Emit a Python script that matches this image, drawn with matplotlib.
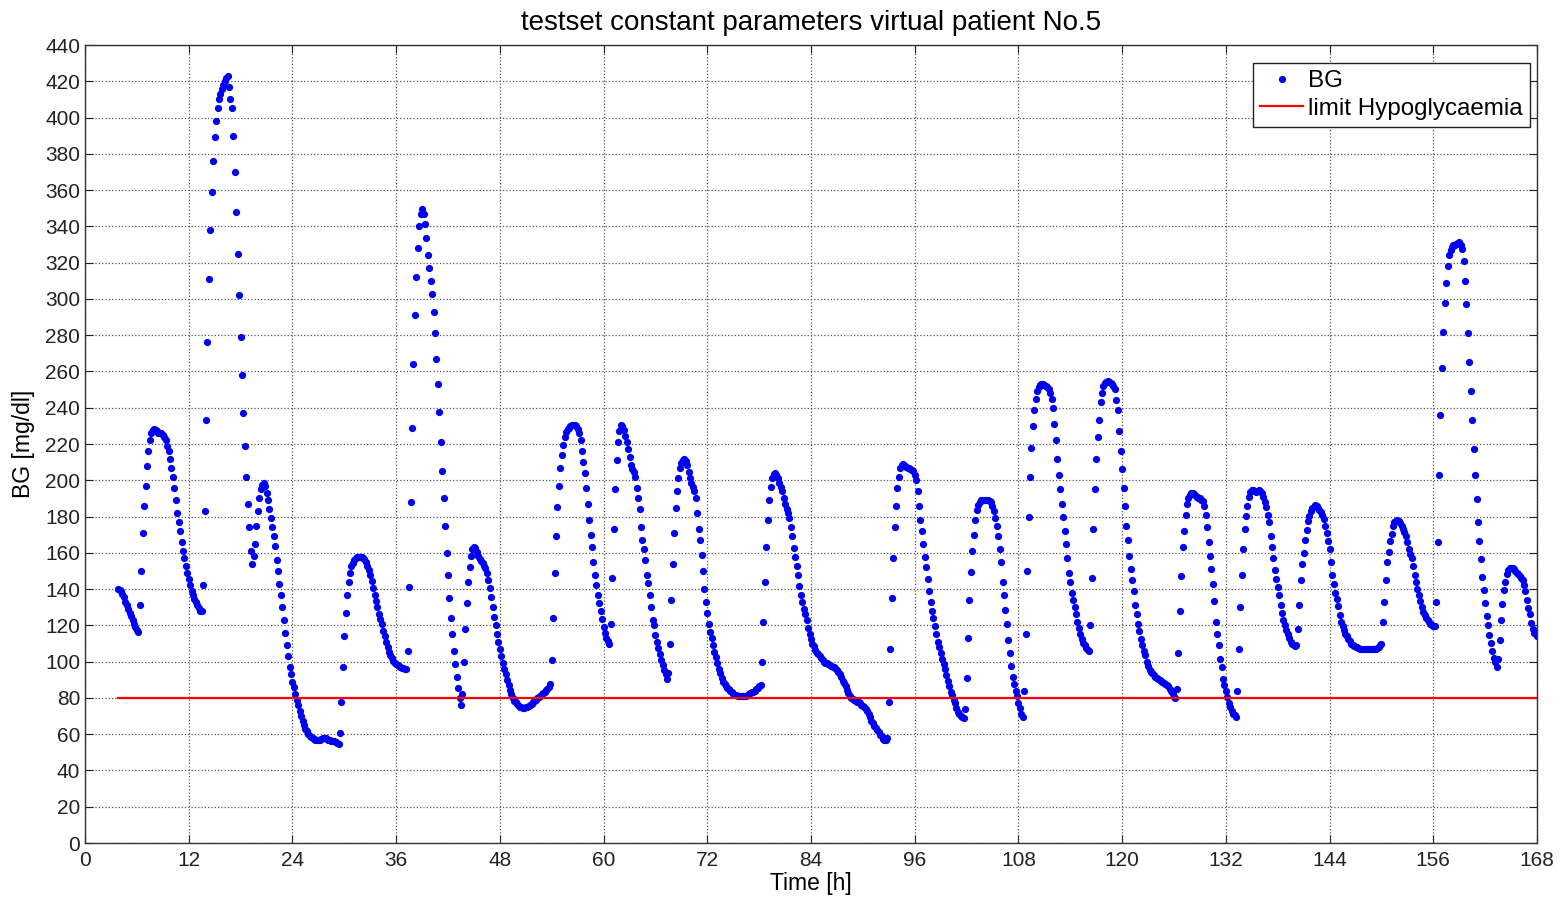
import numpy as np
import matplotlib
matplotlib.use("Agg")
import matplotlib.pyplot as plt

plt.rcParams['font.family'] = ['Liberation Sans', 'DejaVu Sans']

# BG of virtual patient 5, one sample every 10 min
t_start = 23 / 6   # first sample [h]
step = 1 / 6       # 10 min

# 3.8h - 29.5h
bg_a = [140, 139.5, 139, 137.5, 135.5, 133, 131, 129, 127, 125, 123, 121, 119, 117.5, 116.5,
        131, 150, 171, 186, 197, 208, 216, 222, 226, 227.5, 228, 227.5, 227, 226, 226, 226, 225, 224,
        222, 219, 216, 212, 207, 202, 196, 189, 182, 177, 172, 166, 161, 157, 152.5, 149, 145.5, 142,
        139, 136.5, 134.5, 133, 131, 129.5, 128, 128,
        142, 183, 233, 276, 311, 338, 359, 376, 389, 398, 405, 410, 413, 416, 418, 420, 422, 423,
        417, 410, 405, 390, 370, 348, 325, 302, 279, 258, 237, 219, 202, 187, 174, 161, 154,
        158, 165, 175, 183, 190, 195, 197.5, 198.5, 197, 193, 189, 184, 179, 174, 169, 164, 156, 150,
        143, 137, 130, 123, 116, 109, 103, 97, 93, 89, 86, 82,
        79, 76, 73, 70, 67.5, 65, 63, 61.5, 60, 59, 58.5, 58, 57.5, 57, 57, 57, 57, 57.5, 58, 58,
        58, 57.5, 57, 57, 56.5, 56, 56, 55.5, 55, 54.5]
# 29.5h - 54h
bg_b = [60.5, 78, 97, 114, 127, 137, 144, 149, 152.5, 154.5, 156, 157, 157.5, 157.5, 157.5, 157.5,
        157, 156.5, 155, 153, 150.5, 147.5, 144.5, 140.5, 137, 133.5, 130, 126.5, 123.5, 120.5,
        117, 114, 111, 108, 105.5, 103.5, 102, 100.5, 99.5, 98.7, 98, 97.5, 97, 96.7, 96.3, 96.2, 96.2,
        106, 141, 188, 229, 264, 291, 312, 328, 340, 347, 349.5, 347, 341.5, 333.5, 324, 317, 310,
        302.5, 293, 281, 267, 253, 237.5, 221, 205, 190, 175, 160, 147.5, 135, 124, 115, 106, 98.5,
        91.5, 85.5, 80, 76,
        82, 100, 118, 132.5, 144, 152, 158, 162, 163, 162.7, 160.5, 158.5, 156.8, 155.5, 154.5, 153,
        151.5, 149, 145, 140.5, 135.5, 130, 124.5, 120, 115.5, 111, 107, 103, 99.5, 96, 93, 90, 87,
        84.5, 82, 80, 78.5, 77.5, 76.5, 75.7, 75.2, 74.8, 74.5, 74.6, 74.8, 75.1, 75.5, 76, 76.8,
        77.5, 78.2, 79, 79.7, 80.5, 81.3, 82, 82.7, 83.5, 84.2, 85, 86, 87.5]
# 54h - 78.2h
bg_c = [100.7, 124, 149, 169, 185, 197, 207, 214, 219.5, 224, 226.5, 228, 229, 230, 230.5, 230.7,
        230.3, 229.7, 228, 226, 222, 216, 210, 204, 196, 187, 178, 170, 163, 155, 148, 142, 137,
        132.5, 128, 123.5, 119, 116, 113, 111.5, 110,
        121, 146, 173, 195, 211, 221, 227, 230.5, 230, 227.5, 224.5, 221, 217, 213, 208.5, 206,
        204.5, 202, 196, 190, 184, 174, 167, 162, 156, 148, 143.5, 136.5, 130, 123, 120, 114.5, 111,
        107.5, 104, 101, 98, 95.5, 93, 90.7,
        93.5, 110, 134, 154, 171, 184.5, 194, 201.5, 206.5, 209.5, 211, 211.5, 210.5, 208.5, 204.5,
        201, 198.5, 196.5, 194, 190, 182, 173, 167, 159, 150, 140, 133, 127, 121, 116.5, 113, 109,
        105.5, 102.5, 99, 96, 93.5, 91, 89, 87.5, 86.5, 85.5, 84.7, 83.8, 83, 82.2, 81.8, 81.5, 81.2,
        81, 81, 81, 81, 81, 81.3, 81.7, 82.2, 82.7, 83.1, 83.5, 84, 84.8, 85.5, 86.3, 87.2]
# 78.2h - 108.5h
bg_d = [100, 122, 144, 163, 178, 189, 196.5, 201, 203.5, 204, 203, 201, 198.5, 196.5, 194, 190.5,
        187, 184, 182, 179, 174, 169, 162.5, 157.5, 153, 148, 141.5, 137, 133, 129, 126, 123, 118.5,
        115, 112.5, 110, 108.5, 106.5, 105, 104, 103, 102, 101, 100, 99.5, 99, 98.5, 98, 97.8, 97.3,
        96.8, 96.3, 95.5, 94.5, 93, 91.5, 89.5, 88, 86.5, 84.5, 82.8, 81.3, 80, 79.2, 78.6, 78.2,
        77.9, 77.5, 77, 76.3, 75.5, 74.8, 73.8, 73, 71, 69.2, 67.5, 66, 64.5, 63.2, 62.1, 61, 59.8,
        58.8, 57.6, 56.8, 57, 57.7,
        78, 107, 135, 157, 174, 186, 195.5, 202, 206.5, 208.5, 209, 208, 207.5, 207, 206.5, 206,
        205.8, 205, 203, 200, 194, 186, 178, 172, 165, 157.5, 152, 145.5, 139, 133, 128, 124, 119.5,
        115, 111, 108, 104.5, 101.5, 98.5, 96, 92.5, 89.5, 86.5, 83.5, 81.6, 79, 77, 74.5, 72.5, 71,
        70, 69.3, 68.8,
        74, 91, 113, 134, 149.5, 161, 170, 178, 183.5, 186.5, 188, 189, 189.2, 189.2, 189.2, 189.1,
        189, 188.7, 188.2, 186, 183, 179, 175, 169, 162, 155, 144, 136.5, 128.5, 121, 112, 105, 97.5,
        91.5, 87.5, 84, 81, 77.3, 74.5, 71, 69.6]
# 108.5h - 140h
bg_e = [84, 115, 150, 180, 202, 218, 230, 239, 245, 249, 251.5, 252.5, 253, 253, 252.5, 252, 251.5,
        250.5, 248, 245, 240, 231, 222, 212, 203, 195, 187, 180, 172, 165, 157, 149, 144, 138, 134,
        130, 126, 122, 118.5, 115.5, 112.5, 110.5, 109, 107.5, 106.5, 106,
        120, 146, 173, 195, 212, 224, 233, 243, 248, 252, 253.5, 254.4, 254.5, 254.2, 253.8, 253, 252,
        250.5, 244, 239, 227, 216, 206, 196, 186, 175, 167, 158, 151, 145, 139, 131, 126, 121, 117,
        112.5, 109, 106, 103.5, 100, 97.5, 95.5, 94.5, 93.5, 92.5, 91.8, 91, 90.4, 89.8, 89.2, 88.7,
        88.2, 87.7, 87.2, 86.5, 85, 83.8, 82, 80.5, 79.8,
        85, 105, 128, 147, 163, 172, 181, 187, 190, 192, 192.8, 193.2, 192.5, 191.5, 191, 190.5, 190,
        189, 188.3, 186, 181, 174, 166, 158.5, 151, 143, 133.5, 122, 115, 109, 101.5, 97, 90.5, 87,
        84, 80.5, 77, 74.8, 72.8, 71.3, 70.5, 69.7,
        84, 107, 130, 148, 162, 173, 180.5, 186, 191, 193.5, 194.5, 194.5, 194, 193.8, 194.2, 194.5,
        194, 193, 191, 188, 185, 181, 177, 169, 163, 157, 150.5, 145.5, 141, 136.5, 131, 127, 123,
        120, 117.5, 115, 113, 111, 109.7, 109, 108.6]
# 140h - 168h
bg_f = [109, 118, 131, 145, 154, 160, 167, 172.5, 177.5, 180.5, 183, 184.5, 185.3, 186.3, 186,
        184.7, 183.5, 182.5, 181, 178.5, 175, 171, 166.5, 162, 155, 148, 143, 138, 134.5, 130.7,
        125.5, 122, 119.7, 117.5, 115.5, 114, 112.7, 111.2, 110, 109.2, 108.7, 108.2, 107.8, 107.4,
        107.1, 106.9, 106.8, 106.8, 106.8, 106.8, 106.8, 106.8, 106.8, 106.9, 107, 107.2, 107.7,
        108.3, 109, 110,
        122, 133, 145, 155, 160.5, 166.3, 170.5, 175, 176.8, 177.5, 178, 177.5, 176.2, 174.8, 173.3,
        171.5, 169, 166, 162, 159.5, 157, 152.5, 148, 144, 140, 136.5, 133.5, 130.2, 127.6, 125.5,
        124.3, 123, 121.7, 120.8, 120.2, 119.8, 119.4,
        133, 166, 203, 236, 262, 282, 298, 309, 318, 324, 327, 328.5, 329.5, 330, 330.5, 331, 331.5,
        330, 327.5, 321, 310, 297, 281, 265, 249, 233, 217, 203, 189.5, 177, 166.5, 156.4, 146.8,
        139.5, 132.2, 125.2, 120.2, 114.7, 110.1, 106, 101.8, 100, 97.2,
        101.2, 112, 123, 132, 139.5, 144, 148.5, 150.5, 151.5, 151.5, 151.5, 151, 150, 149, 148.2,
        147.3, 146.3, 145, 142.5, 139, 134, 129.5, 126, 121.5, 118, 116, 115, 114]

hypo_limit = 80

bg = np.array(bg_a + bg_b + bg_c + bg_d + bg_e + bg_f)
t = t_start + np.arange(len(bg)) * step

fig = plt.figure(figsize=(15.63, 8.97), dpi=100)
ax = fig.add_axes([85 / 1563, 1 - 843 / 897, 1452 / 1563, 798 / 897])

ax.plot(t, bg, 'o', color='#0000f0', markersize=5.2, markeredgewidth=0, label='BG')
ax.plot([t[0], t[-1]], [hypo_limit, hypo_limit], '-', color='red', linewidth=1.6,
        label='limit Hypoglycaemia')

ax.set_xlim(0, 168)
ax.set_ylim(0, 440)
ax.set_xticks(np.arange(0, 169, 12))
ax.set_yticks(np.arange(0, 441, 20))
ax.grid(True, linestyle=':', color='#555555', linewidth=0.9)
ax.tick_params(direction='in', top=True, right=True, length=6, labelsize=15, colors='#222222')
ax.tick_params(axis='x', pad=6)
for s in ax.spines.values():
    s.set_color('#333333')
    s.set_linewidth(1.0)

ax.set_title("testset constant parameters virtual patient No.5", fontsize=20, pad=11)
ax.set_xlabel("Time [h]", fontsize=16.5, labelpad=1)
ax.set_ylabel("BG [mg/dl]", fontsize=16.5, labelpad=7)

leg = ax.legend(loc='upper right', bbox_to_anchor=(0.9952, 0.9774), borderaxespad=0,
                fontsize=17.4, fancybox=False, framealpha=1, edgecolor='#222222',
                handlelength=1.8, handletextpad=0.2, markerscale=1.0, borderpad=0.3,
                labelspacing=0.22)
leg.get_frame().set_linewidth(1.0)

fig.savefig("out.png", dpi=100)
